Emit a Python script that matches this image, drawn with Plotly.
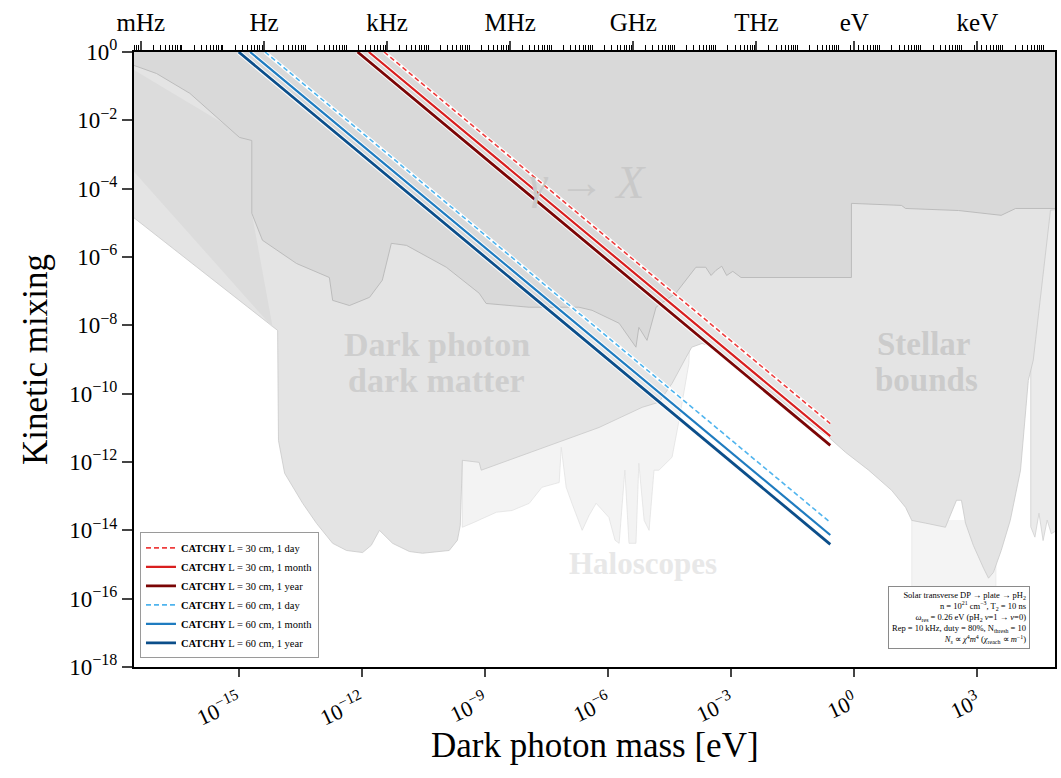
import numpy as np
import plotly.graph_objects as go

H_EVS = 4.135667696e-15  # Planck constant [eV s]
FONT = "Liberation Serif"

# ---------------- CATCHY projected reach (chi ~ 1/m), ends at the pH2 resonance
M_RES = 0.26  # eV
catchy_names = [
    "<b>CATCHY</b> L = 30 cm, 1 day",
    "<b>CATCHY</b> L = 30 cm, 1 month",
    "<b>CATCHY</b> L = 30 cm, 1 year",
    "<b>CATCHY</b> L = 60 cm, 1 day",
    "<b>CATCHY</b> L = 60 cm, 1 month",
    "<b>CATCHY</b> L = 60 cm, 1 year",
]
catchy_mass_top = [3.5e-12, 1.48e-12, 7.9e-13, 4.4e-15, 1.9e-15, 1.0e-15]   # mass where chi = 1
catchy_chi_res = [1.33e-11, 5.7e-12, 3.05e-12, 1.7e-14, 7.3e-15, 3.9e-15]   # chi at M_RES
catchy_colors = ["#ee3e3e", "#d91f1f", "#7a0505", "#4fb4ee", "#1f7cc0", "#0b4e8a"]
catchy_widths = [1.6, 2.2, 2.8, 1.6, 2.2, 2.8]
catchy_dash = ["5px,3px", "solid", "solid", "5px,3px", "solid", "solid"]

# ---------------- existing limits, log10(m/eV), log10(chi)
# lower envelope of all excluded regions
env_logm = [-18.0, -14.17, -14.05, -14.03, -13.88, -13.44, -13.10, -12.71, -12.37, -11.98,
            -11.77, -11.57, -11.40, -11.25, -10.84, -10.52, -9.87, -9.67, -9.60, -9.55,
            -9.14, -9.09, -6.22, -5.17, -4.76, -4.44, -4.10, -3.96, -3.71, -3.42, -2.33,
            -1.35, -0.62, -0.21, 0.35, 0.91, 1.25, 1.40, 1.74, 2.22, 2.49, 2.61, 2.71,
            2.90, 3.15, 3.27, 3.39, 3.58, 3.80, 4.05, 4.24, 4.36, 4.78, 5.2, 5.2, -18.0]
env_logchi = [-4.43, -8.06, -8.15, -11.37, -12.33, -13.21, -13.80, -14.38, -14.59, -14.65,
              -14.44, -14.00, -14.21, -14.38, -14.62, -14.67, -14.59, -14.29, -13.85, -11.95,
              -12.01, -12.24, -10.99, -10.40, -10.25, -9.70, -8.94, -8.64, -8.53, -8.64, -9.67,
              -10.63, -11.28, -11.72, -12.24, -12.83, -13.33, -13.71, -13.79, -13.91, -13.12, -13.12, -13.79,
              -14.44, -15.11, -15.40, -15.23, -14.59, -13.71, -12.24, -9.61, -9.02, -4.63, -4.58, 0.5, 0.5]

# low-mass band between the upper block and the envelope
left_logm = [-18.0, -14.68, -14.68, -14.17, -18.0]
left_logchi = [-0.20, -2.59, -4.72, -8.06, -2.90]

# upper block (laboratory + cosmological limits)
upper_logm = [-18.0, -17.0, -16.19, -14.98, -14.68, -14.68, -14.42, -13.59, -12.79, -12.71,
              -12.30, -11.81, -11.50, -11.28, -10.91, -9.94, -9.14, -8.97, -7.92, -6.71,
              -6.39, -5.73, -5.32, -5.25, -5.05, -4.83, -4.35, -3.86, -3.62, -3.49, -3.37,
              -3.23, -3.11, -2.96, -2.76, -0.07, -0.07, 1.15, 1.25, 2.54, 3.58, 3.93, 5.2, 5.2, -18.0]
upper_logchi = [-0.20, -0.63, -1.21, -2.50, -2.59, -4.72, -5.51, -6.19, -6.60, -7.27,
                -7.42, -7.18, -6.68, -5.60, -5.66, -6.30, -7.06, -7.36, -7.47, -7.47,
                -7.56, -7.94, -8.64, -8.06, -8.44, -7.47, -7.06, -6.30, -6.30, -6.54, -6.39,
                -6.27, -6.54, -6.42, -6.60, -6.60, -4.43, -4.49, -4.58, -4.64, -4.78, -4.58, -4.58, 0.5, 0.5]

# haloscope limits (below the dark-matter block)
halo_logm = [-9.55, -9.55, -9.31, -8.72, -8.34, -7.92, -7.61, -7.19, -7.14, -7.02, -6.88,
             -6.63, -6.46, -6.29, -5.98, -5.83, -5.73, -5.59, -5.49, -5.32, -5.25, -5.12,
             -5.00, -4.88, -4.76, -4.44, -4.27, -4.03, -4.0, -9.55]
halo_logchi = [-11.95, -13.91, -13.79, -13.47, -13.42, -13.21, -12.74, -12.60, -11.57, -12.74, -13.21,
               -14.00, -13.56, -13.21, -13.62, -14.29, -14.38, -12.24, -14.38, -14.38, -12.04, -13.71,
               -14.00, -12.24, -12.24, -11.86, -10.78, -9.11, -8.0, -8.0]

# high-mass strip at the right edge
strip_logm = [4.30, 4.30, 4.40, 4.50, 4.60, 4.70, 4.80, 5.20, 5.20]
strip_logchi = [-4.60, -13.90, -14.20, -13.50, -14.30, -13.70, -14.10, -13.80, -4.60]

# faint block under the stellar bounds
dd_logm = [1.40, 1.40, 3.45, 3.45]
dd_logchi = [-13.70, -17.20, -17.20, -13.70]

fig = go.Figure()


def add_region(lm, lc, fill, line_color, line_width=0.8):
    fig.add_trace(go.Scatter(
        x=10.0 ** np.asarray(lm), y=10.0 ** np.asarray(lc), mode="lines", fill="toself",
        fillcolor=fill, line=dict(color=line_color, width=line_width),
        hoverinfo="skip", showlegend=False))


add_region(dd_logm, dd_logchi, "#f4f4f4", "#e6e6e6", 0.7)
add_region(halo_logm, halo_logchi, "#f3f3f3", "#e0e0e0", 0.7)
add_region(strip_logm, strip_logchi, "#ebebeb", "#d0d0d0", 0.8)
add_region(env_logm, env_logchi, "#e4e4e4", "#c9c9c9", 0.8)
add_region(left_logm, left_logchi, "#dcdcdc", "rgba(0,0,0,0)", 0)
add_region(upper_logm, upper_logchi, "#d9d9d9", "#b8b8b8", 0.9)

# CATCHY lines with a thin white casing
for name, m_top, chi_res, col, w, dash in zip(catchy_names, catchy_mass_top, catchy_chi_res,
                                              catchy_colors, catchy_widths, catchy_dash):
    xs = [m_top, M_RES]
    ys = [1.0, chi_res]
    fig.add_trace(go.Scatter(x=xs, y=ys, mode="lines", line=dict(color="white", width=w + 2.0),
                             hoverinfo="skip", showlegend=False))
    fig.add_trace(go.Scatter(x=xs, y=ys, mode="lines", name=name,
                             line=dict(color=col, width=w, dash=dash)))

# frequency axis on top
fig.add_trace(go.Scatter(x=[], y=[], xaxis="x2", yaxis="y", showlegend=False, hoverinfo="skip"))


def pow10(k):
    return "10<sup>" + (str(k) if k >= 0 else "\u2212" + str(-k)) + "</sup>"


XMIN, XMAX = -17.55, 4.89
freq_ticks = [1e-3, 1.0, 1e3, 1e6, 1e9, 1e12, 1.0 / H_EVS, 1e3 / H_EVS]
freq_text = ["mHz", "Hz", "kHz", "MHz", "GHz", "THz", "eV", "keV"]
minor_vals = [d * 10.0 ** k for k in range(-5, 22) for d in range(1, 10)]

bottom_exp = [-15, -12, -9, -6, -3, 0, 3]
left_exp = list(range(-18, 1, 2))

fig.update_layout(
    width=1061, height=778,
    margin=dict(l=134, r=4, t=52, b=111),
    paper_bgcolor="white", plot_bgcolor="white",
    font=dict(family=FONT, color="black"),
    xaxis=dict(type="log", range=[XMIN, XMAX], tickmode="array",
               tickvals=[10.0 ** k for k in bottom_exp], ticktext=[pow10(k) for k in bottom_exp],
               tickangle=-25, tickfont=dict(size=22, family=FONT), ticks="outside", ticklen=8,
               tickwidth=1.5, ticklabelstandoff=4, showline=True, linewidth=2, linecolor="black",
               mirror=True, showgrid=False, zeroline=False),
    xaxis2=dict(type="log", overlaying="x", side="top",
                range=[XMIN - np.log10(H_EVS), XMAX - np.log10(H_EVS)],
                tickmode="array", tickvals=freq_ticks, ticktext=freq_text,
                tickfont=dict(size=25, family=FONT), ticks="outside", ticklen=9, tickwidth=1.5,
                minor=dict(tickmode="array", tickvals=minor_vals, ticks="outside", ticklen=5,
                           tickwidth=0.8, tickcolor="black", showgrid=False),
                showline=True, linewidth=2, linecolor="black", showgrid=False, zeroline=False),
    yaxis=dict(type="log", range=[-18, 0], tickmode="array",
               tickvals=[10.0 ** k for k in left_exp], ticktext=[pow10(k) for k in left_exp],
               tickfont=dict(size=23, family=FONT), ticks="outside", ticklen=10, tickwidth=1.5,
               showline=True, linewidth=2, linecolor="black", mirror=True, showgrid=False,
               zeroline=False),
    legend=dict(x=0.0065, y=0.014, xanchor="left", yanchor="bottom", bgcolor="white",
                bordercolor="#9a9a9a", borderwidth=1, font=dict(size=10.5, family=FONT),
                tracegroupgap=0),
)

# region labels (one annotation per line)
labels = [
    ("<b>Dark photon</b>", -10.16, -8.55, 34, "#cecece"),
    ("<b>dark matter</b>", -10.18, -9.62, 34, "#cecece"),
    ("<b>Stellar</b>", 1.69, -8.55, 33, "#cbcbcb"),
    ("<b>bounds</b>", 1.76, -9.60, 33, "#cbcbcb"),
    ("<b>Haloscopes</b>", -5.15, -14.97, 31, "#e8e8e8"),
    ("<i>γ</i> → <i>X</i>", -6.50, -3.82, 46, "#c9c9c9"),
]
for text, lx, ly, size, col in labels:
    fig.add_annotation(x=lx, y=ly, xref="x", yref="y", text=text, showarrow=False,
                       font=dict(size=size, color=col, family=FONT), align="center")

# axis titles
fig.add_annotation(x=0.5, y=-0.127, xref="paper", yref="paper", text="Dark photon mass [eV]",
                   showarrow=False, font=dict(size=35, family=FONT), yanchor="middle")
fig.add_annotation(x=-0.107, y=0.5, xref="paper", yref="paper", text="Kinetic mixing",
                   showarrow=False, textangle=-90, font=dict(size=35, family=FONT), xanchor="center")

# setup box
setup_text = ("Solar transverse DP → plate → pH<sub>2</sub><br>"
              "n = 10<sup>21</sup> cm<sup>−3</sup>, T<sub>2</sub> = 10 ns<br>"
              "<i>ω</i><sub>res</sub> = 0.26 eV (pH<sub>2</sub> <i>v</i>=1 → <i>v</i>=0)<br>"
              "Rep = 10 kHz, duty = 80%, N<sub>thresh</sub> = 10<br>"
              "<i>N<sub>s</sub></i> ∝ <i>χ</i><sup>4</sup><i>m</i><sup>4</sup> "
              "(<i>χ</i><sub>reach</sub> ∝ <i>m</i><sup>−1</sup>)")
fig.add_annotation(x=0.973, y=0.029, xref="paper", yref="paper", xanchor="right", yanchor="bottom",
                   text=setup_text, showarrow=False, align="right",
                   font=dict(size=8.5, family=FONT), bgcolor="white", bordercolor="#8a8a8a",
                   borderwidth=1, borderpad=3)

fig.write_html("out.html")
